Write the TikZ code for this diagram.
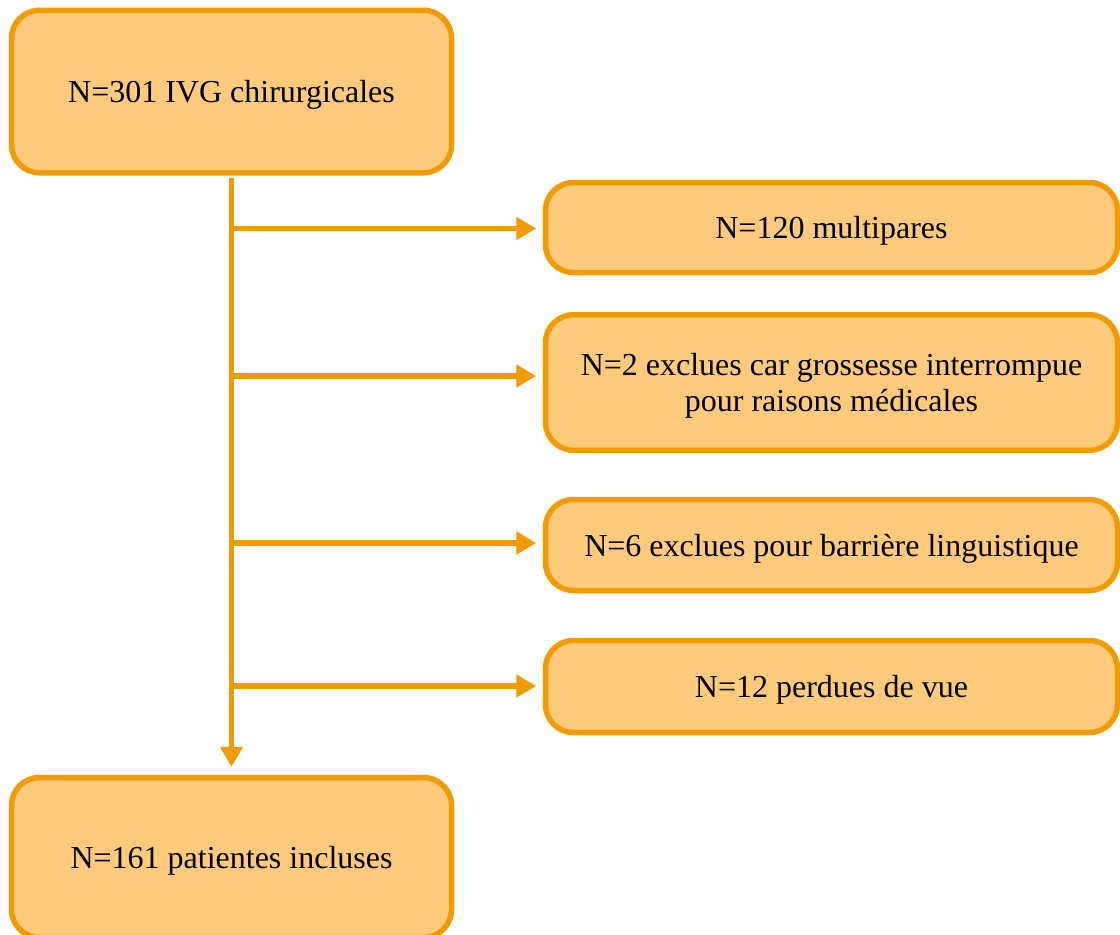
\documentclass[tikz,border=0pt]{standalone}
\usepackage{fontspec}
\setmainfont{Liberation Serif}
\usetikzlibrary{arrows.meta}
\definecolor{boxline}{HTML}{F09C00}
\definecolor{boxfill}{HTML}{FECA7C}
\begin{document}
\begin{tikzpicture}[x=1pt,y=-1pt,
  flowbox/.style={draw=boxline, fill=boxfill, line width=5.5pt, rounded corners=28pt,
    rectangle, inner sep=0pt, align=center, text depth=-5pt, font=\fontsize{32}{36}\selectfont},
  link/.style={draw=boxline, line width=5.5pt, -{Triangle[length=20pt,width=22pt]}}]
\clip (0,0) rectangle (1120,935);
\fill[white] (0,0) rectangle (1120,935);
\node[flowbox, minimum width=440pt, minimum height=162.5pt] (top) at (231.5,91.5) {N=301 IVG chirurgicales};
\node[flowbox, minimum width=440pt, minimum height=160pt] (bot) at (231.5,857.5) {N=161 patientes incluses};
\node[flowbox, minimum width=572pt, minimum height=90pt] (r1) at (831.5,227.5) {N=120 multipares};
\node[flowbox, minimum width=572pt, minimum height=135.5pt] (r2) at (831.5,382.5) {N=2 exclues car grossesse interrompue\\pour raisons médicales};
\node[flowbox, minimum width=572pt, minimum height=91pt] (r3) at (831.5,545) {N=6 exclues pour barrière linguistique};
\node[flowbox, minimum width=572pt, minimum height=92pt] (r4) at (831.5,686.5) {N=12 perdues de vue};
\coordinate (t0) at (231.5,178);
\coordinate (j1) at (231.5,228.5);
\coordinate (j2) at (231.5,376);
\coordinate (j3) at (231.5,543);
\coordinate (j4) at (231.5,686);
\draw[link, shorten >=8pt] (t0) -- (bot.north -| t0);
\draw[link, shorten >=6.5pt] (j1) -- (r1.west |- j1);
\draw[link, shorten >=6.5pt] (j2) -- (r2.west |- j2);
\draw[link, shorten >=6.5pt] (j3) -- (r3.west |- j3);
\draw[link, shorten >=6.5pt] (j4) -- (r4.west |- j4);
\end{tikzpicture}
\end{document}
